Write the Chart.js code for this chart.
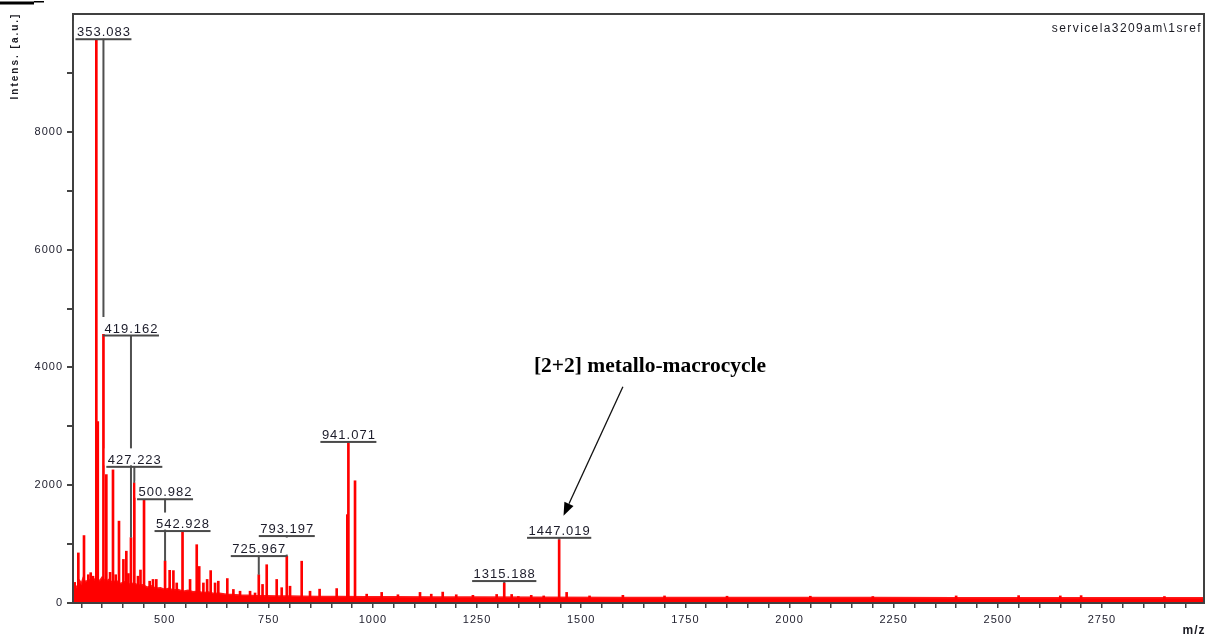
<!DOCTYPE html>
<html>
<head>
<meta charset="utf-8">
<script src="https://cdn.jsdelivr.net/npm/chart.js@4.4.1/dist/chart.umd.min.js"></script>
<style>
  html, body { margin: 0; padding: 0; background: #ffffff; }
  #wrap { width: 1212px; height: 637px; position: relative; }
</style>
</head>
<body>
<div id="wrap"><canvas id="spectrum" width="1212" height="637"></canvas></div>
<script>
// ---- MALDI-TOF spectrum: centroid peaks (m/z, intensity in a.u.) ----
const peakMz = [
  284, 292.8, 306.4, 316.7, 322.5, 328, 336.0, 339.5, 353.083, 360.0,
  369, 376.0, 382.5, 390.4, 401, 408, 413, 419.162, 427.223, 436,
  442, 450.5, 464, 472, 480, 500.982, 512, 521, 529, 542.928,
  561, 577, 583, 593, 602, 610.5, 621, 628.8, 650.4, 665,
  681, 705, 717, 725.967, 735, 745, 769, 781, 793.197, 801,
  829, 849, 872, 913, 938.5, 941.071, 957, 985, 1021, 1060, 1113,
  1140, 1167.5, 1200, 1240, 1297, 1315.188, 1333, 1349, 1380, 1410,
  1447.019, 1465, 1520, 1600, 1700, 1850, 2050, 2200, 2400, 2550,
  2650, 2700, 2900
];
const peakIntensity = [
  350, 850, 1145, 480, 515, 455, 9560, 3080, 4585, 2180,
  520, 2260, 480, 1390, 740, 880, 500, 1110, 2040, 455,
  560, 1750, 370, 400, 400, 714, 555, 550, 340, 1215,
  400, 990, 620, 340, 400, 550, 340, 370, 415, 230,
  200, 200, 170, 480, 315, 650, 400, 260, 793, 285,
  710, 200, 235, 245, 1500, 2725, 2075, 150, 180, 140, 180,
  150, 185, 140, 130, 145, 340, 145, 110, 130, 120,
  1076, 180, 120, 130, 120, 115, 115, 110, 120, 125,
  120, 125, 110
];

// ---- chemical noise / baseline envelope ----
const baselineMz = [
  282, 286, 290, 296, 300, 304, 310, 318, 326, 334,
  344, 350, 358, 366, 374, 384, 394, 404, 416, 426,
  438, 448, 458, 468, 478, 490, 500, 510, 520, 532,
  545, 556, 568, 580, 592, 605, 618, 632, 648, 662,
  680, 700, 720, 745, 770, 800, 830, 870, 920, 980,
  1050, 1150, 1250, 1400, 1600, 1800, 2000, 2200, 2400, 2600,
  2800, 2995
];
const baselineIntensity = [
  150, 300, 260, 380, 330, 420, 360, 400, 350, 420,
  380, 440, 360, 400, 350, 380, 330, 360, 320, 340,
  300, 310, 270, 290, 250, 260, 230, 250, 220, 230,
  200, 215, 190, 200, 175, 185, 160, 165, 150, 145,
  135, 130, 125, 125, 120, 118, 115, 110, 110, 105,
  105, 100, 100, 98, 95, 95, 92, 92, 90, 90,
  88, 88
];

// annotated peaks
const labelledMz = [353.083, 419.162, 427.223, 500.982, 542.928, 725.967, 793.197, 941.071, 1315.188, 1447.019];

// axis tick labels
const xTickLabels = [500, 750, 1000, 1250, 1500, 1750, 2000, 2250, 2500, 2750];
const yTickLabels = [0, 2000, 4000, 6000, 8000];

// ---- layout of the annotations ----
// height (a.u.) of each peak label's underline, stacked to avoid overlaps
const labelLevels = [9580, 4550, 2320, 1770, 1230, 805, 1145, 2743, 381, 1115];
// callout arrow (data coordinates)
const callout = {
  text: '[2+2] metallo-macrocycle',
  textAt: { x: 1665, y: 4010 },
  from: { x: 1600, y: 3670 },
  to: { x: 1457.5, y: 1483 }
};

const xMarks = [];
for (let v = 300; v <= 2950; v += 50) xMarks.push(v);
const yMarks = [];
for (let v = 0; v <= 9000; v += 1000) yMarks.push(v);

const SANS = '"Liberation Sans", Arial, sans-serif';

const decorations = {
  id: 'decorations',
  beforeDraw(chart) {
    chart.ctx.letterSpacing = '1px';
  },
  afterDraw(chart) {
    const { ctx, chartArea: a } = chart;
    const xs = chart.scales.x, ys = chart.scales.y;
    ctx.save();

    // plot frame
    ctx.strokeStyle = '#404040';
    ctx.lineWidth = 2;
    ctx.strokeRect(a.left, a.top, a.right - a.left, a.bottom - a.top);

    // peak labels with leaders
    ctx.font = '13px ' + SANS;
    ctx.letterSpacing = '1px';
    ctx.textBaseline = 'alphabetic';
    ctx.textAlign = 'left';
    const boxes = labelledMz.map((mz, i) => {
      const h = peakIntensity[peakMz.indexOf(mz)];
      const px = xs.getPixelForValue(mz);
      const top = ys.getPixelForValue(h);
      const uy = ys.getPixelForValue(labelLevels[i]);
      const text = mz.toFixed(3);
      const w = ctx.measureText(text).width - 1;
      return { px, top, uy, text, w, x0: px - w / 2 };
    });
    ctx.fillStyle = '#505050';
    boxes.forEach(b => {
      if (b.top - b.uy > 2) ctx.fillRect(b.px - 1, b.uy, 2, b.top - b.uy);
    });
    boxes.forEach(b => {
      ctx.fillStyle = '#ffffff';
      ctx.fillRect(b.x0 - 3, b.uy - 18, b.w + 6, 17);
      ctx.fillStyle = '#1c1c2a';
      ctx.fillText(b.text, b.x0, b.uy - 2.5);
      ctx.fillStyle = '#4a4a4a';
      ctx.fillRect(b.x0 - 1.5, b.uy - 0.5, b.w + 3, 2);
    });

    // callout arrow and caption
    const fx = xs.getPixelForValue(callout.from.x), fy = ys.getPixelForValue(callout.from.y);
    const tx = xs.getPixelForValue(callout.to.x), ty = ys.getPixelForValue(callout.to.y);
    const ang = Math.atan2(ty - fy, tx - fx);
    const headLen = 13, headHalf = 5;
    const bx = tx - headLen * Math.cos(ang), by = ty - headLen * Math.sin(ang);
    ctx.strokeStyle = '#111111';
    ctx.lineWidth = 1.3;
    ctx.beginPath();
    ctx.moveTo(fx, fy);
    ctx.lineTo(bx, by);
    ctx.stroke();
    ctx.fillStyle = '#000000';
    ctx.beginPath();
    ctx.moveTo(tx, ty);
    ctx.lineTo(bx + headHalf * Math.sin(ang), by - headHalf * Math.cos(ang));
    ctx.lineTo(bx - headHalf * Math.sin(ang), by + headHalf * Math.cos(ang));
    ctx.closePath();
    ctx.fill();

    ctx.letterSpacing = '0px';
    ctx.font = 'bold 21.5px "Liberation Serif", "Times New Roman", serif';
    ctx.textAlign = 'center';
    ctx.textBaseline = 'middle';
    ctx.fillText(callout.text, xs.getPixelForValue(callout.textAt.x), ys.getPixelForValue(callout.textAt.y));

    // file name, top right
    ctx.font = '12px ' + SANS;
    ctx.letterSpacing = '1.4px';
    ctx.textAlign = 'right';
    ctx.fillStyle = '#1a1a22';
    ctx.fillText('servicela3209am\\1sref', a.right - 2, a.top + 15);

    // axis titles
    ctx.font = 'bold 12px ' + SANS;
    ctx.letterSpacing = '1px';
    ctx.textAlign = 'center';
    ctx.fillText('m/z', a.right - 10, a.bottom + 28);

    ctx.save();
    ctx.translate(15, 56);
    ctx.rotate(-Math.PI / 2);
    ctx.font = 'bold 10px ' + SANS;
    ctx.letterSpacing = '2px';
    ctx.fillText('Intens. [a.u.]', 0, 0);
    ctx.restore();

    // mark at the top-left corner
    ctx.fillStyle = '#000000';
    ctx.fillRect(0, 1.5, 34, 3);
    ctx.fillRect(34, 1, 10, 1.5);

    ctx.restore();
    ctx.letterSpacing = '0px';
  }
};

new Chart(document.getElementById('spectrum'), {
  type: 'bar',
  data: {
    datasets: [
      {
        type: 'line',
        label: 'baseline',
        data: baselineMz.map((m, i) => ({ x: m, y: baselineIntensity[i] })),
        borderColor: '#ff1a1a',
        backgroundColor: '#ff0000',
        borderWidth: 1.5,
        pointRadius: 0,
        tension: 0,
        fill: 'origin',
        order: 2
      },
      {
        type: 'bar',
        label: 'peaks',
        data: peakMz.map((m, i) => ({ x: m, y: peakIntensity[i] })),
        backgroundColor: '#ff0000',
        borderWidth: 0,
        barThickness: 2,
        grouped: false,
        order: 1
      }
    ]
  },
  options: {
    responsive: false,
    animation: false,
    events: [],
    layout: { padding: { top: 14, right: 8, left: 0, bottom: 0 } },
    plugins: { legend: { display: false }, tooltip: { enabled: false } },
    scales: {
      x: {
        type: 'linear',
        min: 280,
        max: 2995,
        offset: false,
        afterBuildTicks: s => { s.ticks = xMarks.map(v => ({ value: v })); },
        afterFit: s => { s.height = 34; },
        border: { display: false },
        grid: { drawOnChartArea: false, drawTicks: true, tickLength: 5, color: '#444444', lineWidth: 1.5, offset: false },
        ticks: {
          autoSkip: false,
          maxRotation: 0,
          padding: 5,
          color: '#222230',
          font: { family: SANS, size: 11 },
          callback: v => (xTickLabels.includes(v) ? String(v) : '')
        }
      },
      y: {
        type: 'linear',
        min: 0,
        max: 10000,
        afterBuildTicks: s => { s.ticks = yMarks.map(v => ({ value: v })); },
        afterFit: s => { s.width = 73; },
        border: { display: false },
        grid: { drawOnChartArea: false, drawTicks: true, tickLength: 6, color: '#444444', lineWidth: 2 },
        ticks: {
          autoSkip: false,
          padding: 4,
          color: '#222230',
          font: { family: SANS, size: 11 },
          callback: v => (yTickLabels.includes(v) ? String(v) : '')
        }
      }
    }
  },
  plugins: [decorations]
});
</script>
</body>
</html>
